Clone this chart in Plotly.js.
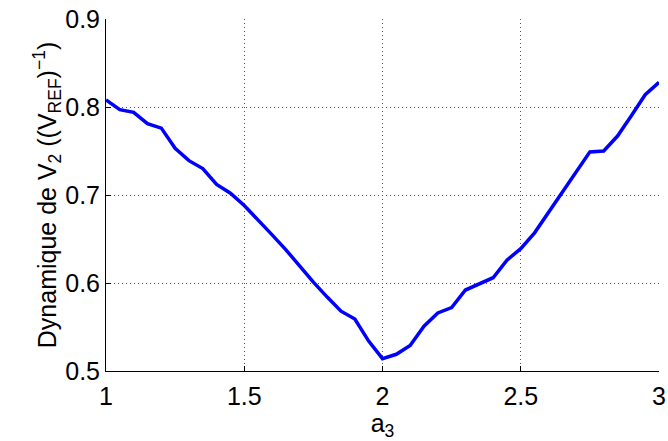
<!DOCTYPE html>
<html>
<head>
<meta charset="utf-8">
<script src="https://cdn.plot.ly/plotly-3.0.1.min.js"></script>
<style>html,body{margin:0;padding:0;background:#fff;}#chart{width:668px;height:441px;}</style>
</head>
<body>
<div id="chart"></div>
<script>
const a3 = [1.00,1.05,1.10,1.15,1.20,1.25,1.30,1.35,1.40,1.45,1.50,1.55,1.60,1.65,1.70,1.75,1.80,1.85,1.90,1.95,2.00,2.05,2.10,2.15,2.20,2.25,2.30,2.35,2.40,2.45,2.50,2.55,2.60,2.65,2.70,2.75,2.80,2.85,2.90,2.95,3.00];
const dynV2 = [0.808,0.797,0.794,0.781,0.776,0.753,0.739,0.730,0.712,0.702,0.688,0.672,0.655,0.638,0.619,0.601,0.584,0.568,0.559,0.534,0.514,0.519,0.529,0.551,0.566,0.572,0.592,0.599,0.606,0.626,0.639,0.657,0.680,0.703,0.726,0.749,0.750,0.767,0.790,0.814,0.828];
const xTicks = [1,1.5,2,2.5,3];
const yTicks = [0.5,0.6,0.7,0.8,0.9];

function mkFont(s) { return {family: 'Liberation Sans, Arial, sans-serif', size: s, color: '#000'}; }
Plotly.newPlot('chart', [{
  x: a3, y: dynV2, type: 'scatter', mode: 'lines',
  line: {color: '#0000ff', width: 3.5}, hoverinfo: 'none'
}], {
  width: 668, height: 441,
  margin: {l: 106, r: 9, t: 19, b: 70},
  paper_bgcolor: '#fff', plot_bgcolor: '#fff',
  font: mkFont(25),
  showlegend: false,
  xaxis: {
    range: [1, 3], tickvals: xTicks, ticktext: xTicks.map(String),
    ticks: 'inside', ticklen: 5, tickcolor: '#000', tickwidth: 1,
    showline: true, linecolor: '#000', linewidth: 1,
    showgrid: true, gridcolor: '#555', griddash: '1px,3px', gridwidth: 1,
    zeroline: false, tickfont: mkFont(25), ticklabelstandoff: 3,
    title: {text: 'a<sub>3</sub>', font: mkFont(25), standoff: 0}
  },
  yaxis: {
    range: [0.5, 0.9], tickvals: yTicks, ticktext: yTicks.map(v => v.toFixed(1)),
    ticks: 'inside', ticklen: 5, tickcolor: '#000', tickwidth: 1,
    showline: true, linecolor: '#000', linewidth: 1,
    showgrid: true, gridcolor: '#555', griddash: '1px,3px', gridwidth: 1,
    zeroline: false, tickfont: mkFont(25),
    title: {text: 'Dynamique de V<sub>2</sub> ((V<sub>REF</sub>)<sup>−1</sup>)', font: mkFont(25), standoff: 0}
  }
}, {staticPlot: true});
</script>
</body>
</html>
